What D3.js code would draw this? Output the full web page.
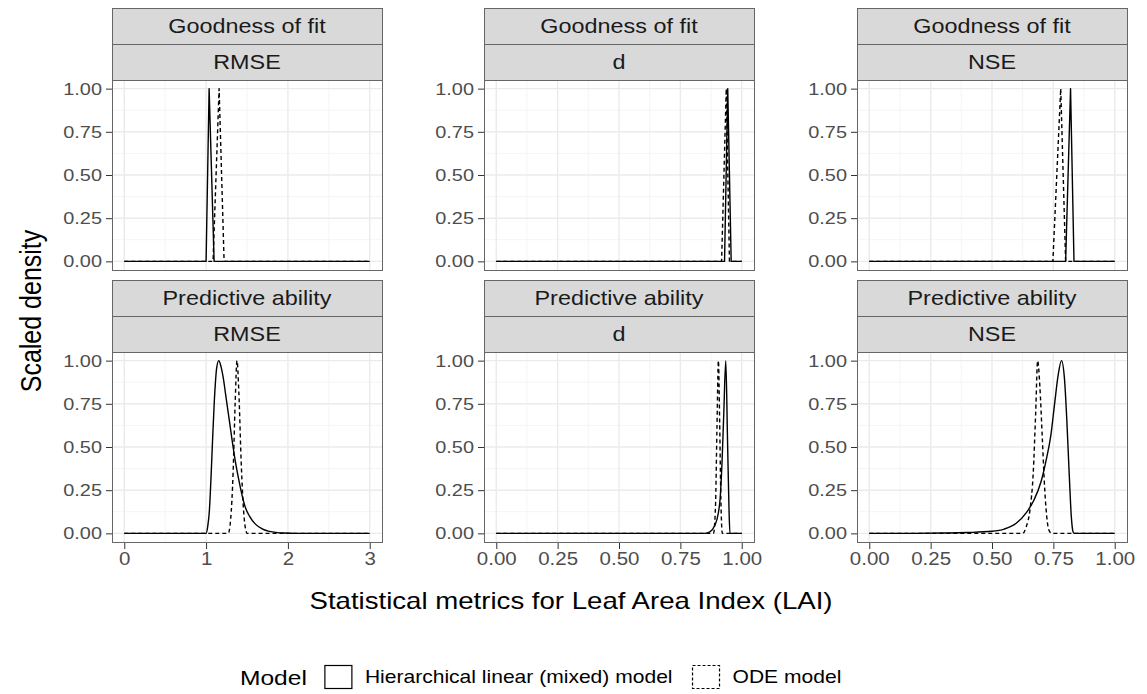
<!DOCTYPE html>
<html>
<head>
<meta charset="utf-8">
<script src="https://cdn.jsdelivr.net/npm/d3@7"></script>
<style>
  body { margin: 0; background: #fff; }
  svg { display: block; font-family: "Liberation Sans", Arial, sans-serif; }
</style>
</head>
<body>
<svg id="chart"></svg>
<script>
// Faceted scaled-density plot: goodness of fit vs predictive ability

const width = 1147;
const height = 694;
const sx = 1.17; // the picture is a bit wider than tall, text included

const rowLabels = ["Goodness of fit", "Predictive ability"];
const metricLabels = ["RMSE", "d", "NSE"];
const metricDomains = [[0, 3], [0, 1], [0, 1]];
const metricTicks = [[0, 1, 2, 3], [0, 0.25, 0.5, 0.75, 1], [0, 0.25, 0.5, 0.75, 1]];
const yTicks = [0, 0.25, 0.5, 0.75, 1];
const modelLabels = ["Hierarchical linear (mixed) model", "ODE model"];

// goodness of fit (top row)
const fitRmseHlm = [[0, 0], [1.0, 0], [1.037, 1], [1.098, 0], [3, 0]];
const fitRmseOde = [[0, 0], [1.085, 0], [1.159, 1], [1.22, 0], [3, 0]];
const fitDHlm = [[0, 0], [0.93, 0], [0.943, 1], [0.957, 0], [1, 0]];
const fitDOde = [[0, 0], [0.918, 0], [0.937, 1], [0.95, 0], [1, 0]];
const fitNseHlm = [[0, 0], [0.8, 0], [0.82, 1], [0.834, 0], [1, 0]];
const fitNseOde = [[0, 0], [0.748, 0], [0.78, 1], [0.8, 0], [1, 0]];

// predictive ability (bottom row)
const predRmseHlm = [[0, 0], [1.0, 0], [1.02, 0.04], [1.04, 0.13], [1.06, 0.32], [1.08, 0.55],
  [1.1, 0.76], [1.13, 0.96], [1.155, 1], [1.18, 0.97], [1.21, 0.9], [1.24, 0.8], [1.27, 0.7],
  [1.3, 0.6], [1.33, 0.5], [1.36, 0.41], [1.4, 0.31], [1.44, 0.22], [1.48, 0.15], [1.53, 0.1],
  [1.6, 0.055], [1.68, 0.028], [1.76, 0.013], [1.85, 0.006], [1.95, 0.002], [2.1, 0], [3, 0]];
const predRmseOde = [[0, 0], [1.27, 0], [1.3, 0.08], [1.33, 0.35], [1.355, 0.75], [1.378, 1],
  [1.4, 0.82], [1.43, 0.4], [1.46, 0.12], [1.49, 0.01], [1.5, 0], [3, 0]];
const predDHlm = [[0, 0], [0.85, 0], [0.87, 0.008], [0.89, 0.045], [0.905, 0.12], [0.912, 0.2],
  [0.92, 0.42], [0.927, 0.7], [0.935, 1], [0.942, 0.55], [0.948, 0.15], [0.952, 0], [1, 0]];
const predDOde = [[0, 0], [0.885, 0], [0.893, 0.15], [0.899, 0.6], [0.905, 1], [0.91, 0.65],
  [0.915, 0.2], [0.921, 0], [1, 0]];
const predNseHlm = [[0, 0], [0.15, 0], [0.3, 0.002], [0.4, 0.005], [0.5, 0.012], [0.55, 0.025],
  [0.6, 0.06], [0.64, 0.12], [0.67, 0.19], [0.7, 0.3], [0.72, 0.42], [0.74, 0.57], [0.755, 0.75],
  [0.77, 0.92], [0.783, 1], [0.795, 0.9], [0.805, 0.65], [0.815, 0.33], [0.823, 0.1],
  [0.83, 0.01], [0.835, 0], [1, 0]];
const predNseOde = [[0, 0], [0.625, 0], [0.64, 0.04], [0.655, 0.14], [0.668, 0.35], [0.678, 0.7],
  [0.686, 1], [0.695, 0.85], [0.705, 0.55], [0.715, 0.25], [0.725, 0.07], [0.735, 0.01],
  [0.745, 0], [1, 0]];

const curves = [
  [[fitRmseHlm, fitRmseOde], [fitDHlm, fitDOde], [fitNseHlm, fitNseOde]],
  [[predRmseHlm, predRmseOde], [predDHlm, predDOde], [predNseHlm, predNseOde]],
];

const colX = [112, 484, 857];
const panelW = 270;
const rowTop = [8, 280];
const stripH = 36;
const panelH = 190;
const border = "#666";

const svg = d3.select("#chart").attr("width", width).attr("height", height);

// text drawn at (x, y) and stretched sideways
const wideText = (sel, x, y, str, size) =>
  sel.append("text")
    .attr("transform", `translate(${x},${y}) scale(${sx},1)`)
    .attr("font-size", size)
    .text(str);

const fmtTick = (d, c) => (c === 0 ? d3.format("d")(d) : d3.format(".2f")(d));

rowLabels.forEach((rowLabel, r) => {
  metricLabels.forEach((metric, c) => {
    const left = colX[c];
    const stripTop = rowTop[r];
    const top = stripTop + 2 * stripH;

    const dom = metricDomains[c];
    const span = dom[1] - dom[0];
    const x = d3.scaleLinear()
      .domain([dom[0] - 0.05 * span, dom[1] + 0.05 * span])
      .range([left, left + panelW]);
    const y = d3.scaleLinear().domain([-0.05, 1.05]).range([top + panelH, top]);

    const g = svg.append("g");

    // strips
    [rowLabel, metric].forEach((lab, k) => {
      g.append("rect")
        .attr("x", left + 0.5)
        .attr("y", stripTop + k * stripH + 0.5)
        .attr("width", panelW)
        .attr("height", stripH)
        .attr("fill", "#d9d9d9")
        .attr("stroke", border)
        .attr("stroke-width", 1);
      wideText(g, left + panelW / 2, stripTop + k * stripH + stripH / 2, lab, 20)
        .attr("dy", "0.36em")
        .attr("text-anchor", "middle")
        .attr("fill", "#1a1a1a");
    });

    // grid
    const xMinor = c === 0 ? [0.5, 1.5, 2.5] : [0.125, 0.375, 0.625, 0.875];
    const yMinor = [0.125, 0.375, 0.625, 0.875];
    xMinor.forEach((v) => {
      g.append("line").attr("x1", x(v)).attr("x2", x(v)).attr("y1", top).attr("y2", top + panelH)
        .attr("stroke", "#f2f2f2").attr("stroke-width", 0.8);
    });
    yMinor.forEach((v) => {
      g.append("line").attr("x1", left).attr("x2", left + panelW).attr("y1", y(v)).attr("y2", y(v))
        .attr("stroke", "#f2f2f2").attr("stroke-width", 0.8);
    });
    metricTicks[c].forEach((v) => {
      g.append("line").attr("x1", x(v)).attr("x2", x(v)).attr("y1", top).attr("y2", top + panelH)
        .attr("stroke", "#ebebeb").attr("stroke-width", 1.4);
    });
    yTicks.forEach((v) => {
      g.append("line").attr("x1", left).attr("x2", left + panelW).attr("y1", y(v)).attr("y2", y(v))
        .attr("stroke", "#ebebeb").attr("stroke-width", 1.4);
    });

    // density lines
    const line = d3.line()
      .x((d) => x(d[0]))
      .y((d) => y(d[1]))
      .curve(r === 0 ? d3.curveLinear : d3.curveMonotoneX);

    curves[r][c].forEach((pts, m) => {
      g.append("path")
        .attr("d", line(pts))
        .attr("fill", "none")
        .attr("stroke", "#000")
        .attr("stroke-width", 1.4)
        .attr("stroke-dasharray", m === 1 ? "4,3" : null)
        .attr("stroke-linejoin", "round");
    });

    // border
    g.append("rect")
      .attr("x", left + 0.5)
      .attr("y", top + 0.5)
      .attr("width", panelW)
      .attr("height", panelH)
      .attr("fill", "none")
      .attr("stroke", border)
      .attr("stroke-width", 1);

    // y axis
    const yAxis = d3.axisLeft(y).tickValues(yTicks).tickFormat(d3.format(".2f"))
      .tickSize(6).tickPadding(5);
    const ya = svg.append("g").attr("transform", `translate(${left},0)`).call(yAxis);
    ya.select(".domain").remove();
    ya.selectAll(".tick line").attr("stroke", "#333");
    ya.selectAll(".tick text")
      .attr("fill", "#4d4d4d")
      .attr("font-size", 17)
      .attr("font-family", "Liberation Sans, Arial, sans-serif")
      .attr("x", -10 / sx)
      .attr("transform", `scale(${sx},1)`);

    // x axis on bottom row only
    if (r === 1) {
      const xAxis = d3.axisBottom(x).tickValues(metricTicks[c]).tickFormat((d) => fmtTick(d, c))
        .tickSize(6).tickPadding(4);
      const xa = svg.append("g").attr("transform", `translate(0,${top + panelH + 1})`).call(xAxis);
      xa.select(".domain").remove();
      xa.selectAll(".tick line").attr("stroke", "#333");
      xa.selectAll(".tick text")
        .attr("fill", "#4d4d4d")
        .attr("font-size", 17.5)
        .attr("font-family", "Liberation Sans, Arial, sans-serif")
        .attr("transform", `scale(${sx},1)`);
    }
  });
});

// axis titles
wideText(svg, 571, 609, "Statistical metrics for Leaf Area Index (LAI)", 23.6)
  .attr("text-anchor", "middle");

svg.append("text")
  .attr("transform", `translate(41,311) scale(${sx},1) rotate(-90)`)
  .attr("text-anchor", "middle")
  .attr("font-size", 25)
  .text("Scaled density");

// legend
const legend = svg.append("g").attr("transform", "translate(240,677)");
const title = wideText(legend, 0, 0, "Model", 21).attr("dy", "0.36em");

let lx = title.node().getComputedTextLength() * sx + 18;
modelLabels.forEach((lab, i) => {
  legend.append("rect")
    .attr("x", lx).attr("y", -11.5).attr("width", 27).attr("height", 23)
    .attr("fill", "none").attr("stroke", "#000").attr("stroke-width", 1.2)
    .attr("stroke-dasharray", i === 1 ? "3,2" : null);
  const t = wideText(legend, lx + 40, 0, lab, 18).attr("dy", "0.36em");
  lx += 40 + t.node().getComputedTextLength() * sx + 20;
});
</script>
</body>
</html>
